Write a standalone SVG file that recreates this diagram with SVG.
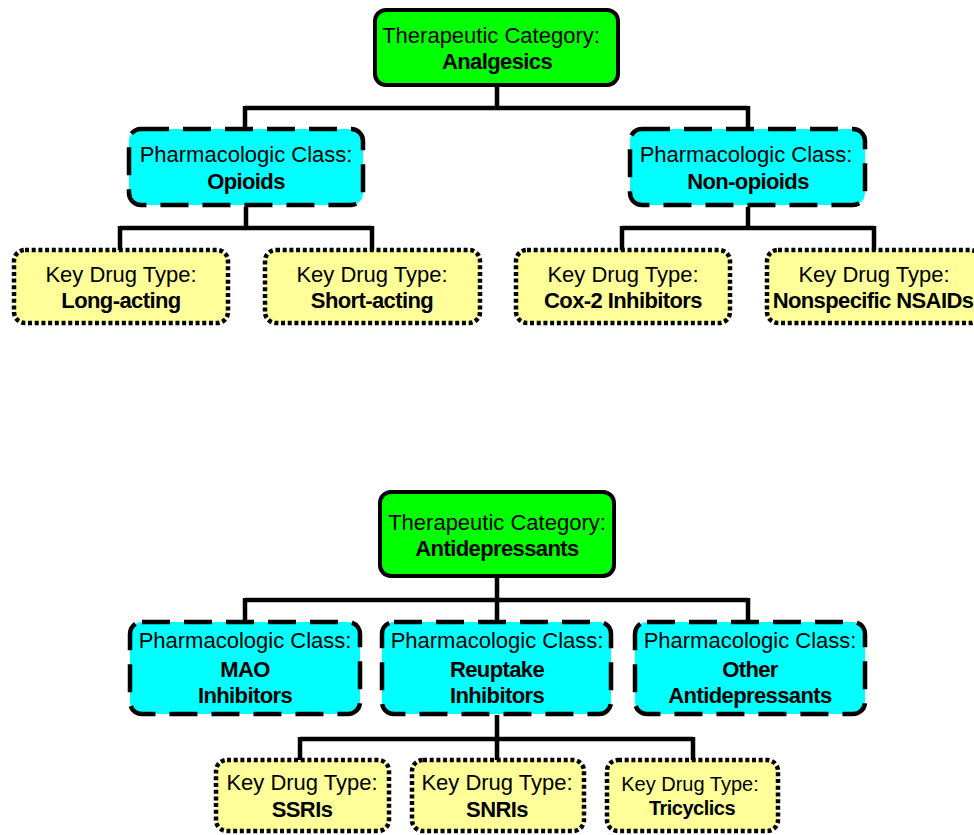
<svg xmlns="http://www.w3.org/2000/svg" width="974" height="835" viewBox="0 0 974 835">
<style>
text{font-family:"Liberation Sans",Arial,sans-serif;font-size:22px;fill:#000;text-anchor:middle}
.b{font-weight:bold;letter-spacing:-0.6px}
.s{font-size:20px}
.sb{font-size:20px;letter-spacing:-0.5px}
.cat{fill:#00FF00;stroke:#000;stroke-width:4}
.cls{fill:#00FFFF;stroke:#000;stroke-width:4.5;stroke-dasharray:28 14}
.drug{fill:#FFFF99;stroke:#000;stroke-width:4.5;stroke-dasharray:4 2.7}
#connectors path{fill:none;stroke:#000;stroke-width:4.5}
</style>
<rect width="974" height="835" fill="#fff"/>
<g id="connectors">
<path d="M497 86V108M245 108H748M245 106V129M748 106V129"/>
<path d="M246 207V228M120 228H372M120 226V250M372 226V250"/>
<path d="M748 207V228M622 228H874M622 226V250M874 226V250"/>
<path d="M497 577V600M245 600H748M245 598V622M497 598V622M748 598V622"/>
<path d="M497 715V739M300 739H693M300 737V760M497 737V760M693 737V760"/>
</g>
<g id="cat-analgesics"><rect class="cat" x="375" y="10" width="243" height="75" rx="11"/><text x="491" y="43">Therapeutic Category:</text><text class="b" x="497" y="69">Analgesics</text></g>
<g id="cls-opioids"><rect class="cls" x="129" y="129" width="234" height="76" rx="12"/><text x="246" y="162">Pharmacologic Class:</text><text class="b" x="246" y="189">Opioids</text></g>
<g id="cls-nonopioids"><rect class="cls" x="630" y="129" width="235" height="76" rx="12"/><text x="746" y="162">Pharmacologic Class:</text><text class="b" x="748" y="189">Non-opioids</text></g>
<g id="drug-long"><rect class="drug" x="14" y="250" width="214" height="73" rx="11"/><text x="121" y="282">Key Drug Type:</text><text class="b" x="121" y="308">Long-acting</text></g>
<g id="drug-short"><rect class="drug" x="265" y="250" width="215" height="73" rx="11"/><text x="372" y="282">Key Drug Type:</text><text class="b" x="372" y="308">Short-acting</text></g>
<g id="drug-cox2"><rect class="drug" x="516" y="250" width="214" height="73" rx="11"/><text x="623" y="282">Key Drug Type:</text><text class="b" x="623" y="308">Cox-2 Inhibitors</text></g>
<g id="drug-nsaids"><rect class="drug" x="767" y="250" width="214" height="73" rx="11"/><text x="874" y="282">Key Drug Type:</text><text class="b" x="873" y="308">Nonspecific NSAIDs</text></g>
<g id="cat-antidepressants"><rect class="cat" x="380" y="492" width="234" height="84" rx="11"/><text x="497" y="530">Therapeutic Category:</text><text class="b" x="497" y="556">Antidepressants</text></g>
<g id="cls-mao"><rect class="cls" x="130" y="622" width="230" height="92" rx="12"/><text x="245" y="648">Pharmacologic Class:</text><text class="b" x="245" y="677">MAO</text><text class="b" x="245" y="703">Inhibitors</text></g>
<g id="cls-reuptake"><rect class="cls" x="382" y="622" width="229" height="92" rx="12"/><text x="497" y="648">Pharmacologic Class:</text><text class="b" x="497" y="677">Reuptake</text><text class="b" x="497" y="703">Inhibitors</text></g>
<g id="cls-other"><rect class="cls" x="635" y="622" width="230" height="92" rx="12"/><text x="750" y="648">Pharmacologic Class:</text><text class="b" x="750" y="677">Other</text><text class="b" x="750" y="703">Antidepressants</text></g>
<g id="drug-ssri"><rect class="drug" x="216" y="760" width="173" height="71" rx="11"/><text x="302" y="790">Key Drug Type:</text><text class="b" x="302" y="817">SSRIs</text></g>
<g id="drug-snri"><rect class="drug" x="412" y="760" width="172" height="71" rx="11"/><text x="497" y="790">Key Drug Type:</text><text class="b" x="497" y="817">SNRIs</text></g>
<g id="drug-tricyclic"><rect class="drug" x="607" y="760" width="171" height="71" rx="11"/><text class="s" x="690" y="791">Key Drug Type:</text><text class="b sb" x="692" y="815">Tricyclics</text></g>
</svg>
